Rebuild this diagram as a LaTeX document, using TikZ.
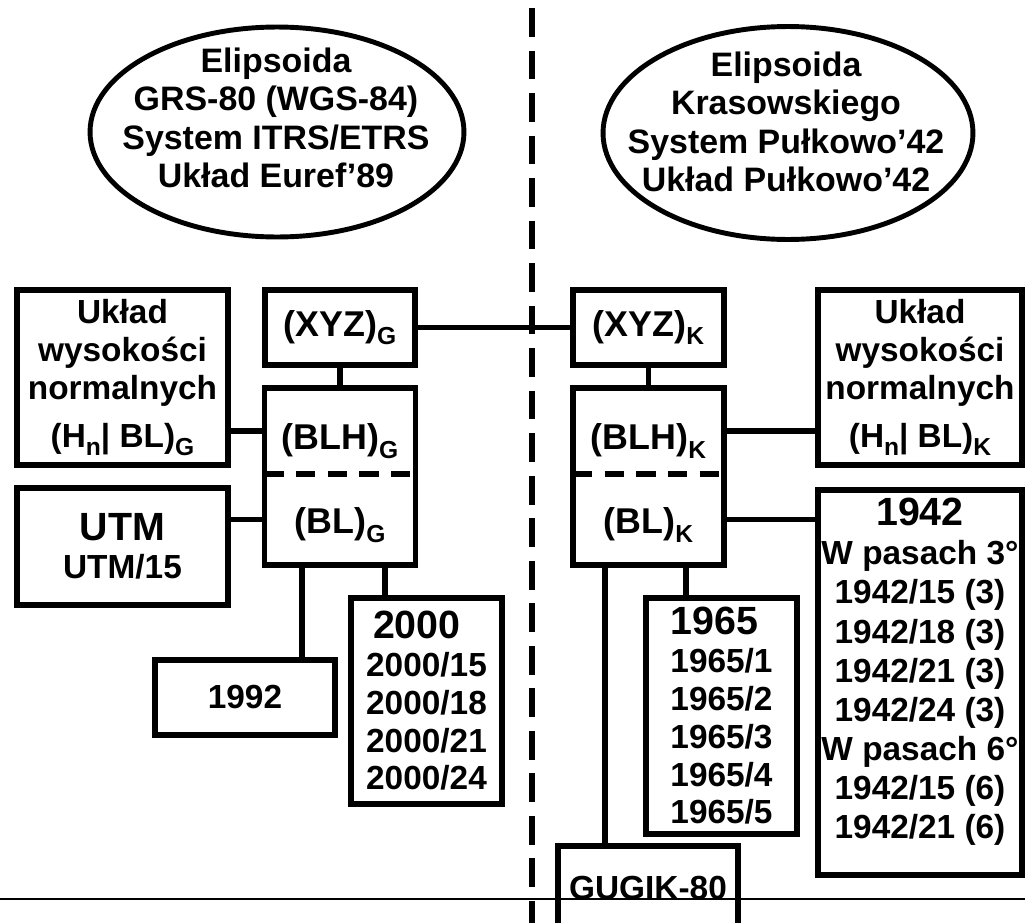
\documentclass[tikz,border=0pt]{standalone}
\usepackage{fontspec}
\setmainfont{Liberation Sans}
\usetikzlibrary{positioning, shapes.geometric, calc}

\newcommand{\txt}{\fontsize{19}{21.5}\selectfont\bfseries}
\newcommand{\lbl}{\fontsize{20.4}{22}\selectfont\bfseries}
\newcommand{\hdr}{\fontsize{22.4}{22.4}\selectfont}
\newcommand{\lowidx}[1]{\raisebox{-0.24em}{\fontsize{14}{14}\selectfont #1}}

\begin{document}
\begin{tikzpicture}[x=0.02cm, y=-0.02cm,
    box/.style={draw, line width=3.2pt, rectangle, outer sep=0pt, inner sep=0pt, align=center, font=\txt}, % ramki
    half/.style={rectangle, outer sep=0pt, inner sep=0pt, minimum width=3.02cm, align=center, font=\lbl, text depth=5pt},
    link/.style={line width=3.2pt},
    halfdash/.style={line width=3.2pt, dash pattern=on 11pt off 7pt},
    ell/.style={ellipse, draw, line width=2.8pt, inner sep=0pt},
    etxt/.style={align=center, inner sep=0pt, font={\fontsize{19.3}{21.8}\selectfont\bfseries}},
    divider/.style={line width=3.4pt, dash pattern=on 16.4pt off 7.8pt}
    ]
\clip (0,0) rectangle (1025,923);

% elipsoidy
\node[ell, minimum width=7.48cm, minimum height=4.2cm] (ellG) at (277,132) {};
\node[etxt] (ellGt) at (276,118) {Elipsoida\\GRS-80 (WGS-84)\\System ITRS/ETRS\\Układ Euref’89};
\node[ell, minimum width=7.4cm, minimum height=4.26cm] (ellK) at (788,133) {};
\node[etxt] (ellKt) at (786,122) {Elipsoida\\Krasowskiego\\System Pułkowo’42\\Układ Pułkowo’42};

% linie podzialu
\draw[divider] (532,8) -- (532,930);
\draw[line width=1.2pt] (0,899) -- (1025,899);

% lewa strona
\node[box, font=\lbl, minimum width=3cm, minimum height=1.5cm] (xyzG) at (340,327.5) {(XYZ)\lowidx{G}};
\node[half, text height=26pt, minimum height=1.72cm] (blhG) at (340,431) {(BLH)\lowidx{G}};
\node[half, text height=21.5pt, minimum height=1.82cm, below=0pt of blhG] (blG) {(BL)\lowidx{G}};
\draw[link] (blhG.north west) rectangle (blG.south east);
\draw[halfdash] (blhG.south west) -- (blhG.south east);
\node[box, minimum width=4.22cm, minimum height=3.5cm] (ukG) at (122.5,377.5) {Układ\\wysokości\\normalnych\\[6pt](H\lowidx{n}| BL)\lowidx{G}};
\node[box, minimum width=4.22cm, minimum height=2.34cm] (utm) at (122.5,546.5) {{\hdr UTM}\\UTM/15};
\node[box, minimum width=3.6cm, minimum height=1.5cm] (y1992) at (245,697.5) {1992};
\node[box, minimum width=3.02cm, minimum height=4.12cm] (y2000) at (426.5,701) {{\hdr 2000}\hspace*{11pt}\\2000/15\\2000/18\\2000/21\\2000/24};

\draw[link] (xyzG.south) -- (blhG.north);
\draw[link] (blhG.west) -- (blhG.west -| ukG.east);
\draw[link] (blG.west) -- (blG.west -| utm.east);
\coordinate (gA) at ($(blG.south west)!0.25!(blG.south east)$);
\coordinate (gB) at ($(blG.south west)!0.8!(blG.south east)$);
\draw[link] (gA) -- (gA |- y1992.north);
\draw[link] (gB) -- (gB |- y2000.north);

% prawa strona
\node[box, font=\lbl, minimum width=3.02cm, minimum height=1.5cm] (xyzK) at (648.5,327.5) {(XYZ)\lowidx{K}};
\node[half, text height=26pt, minimum height=1.72cm] (blhK) at (648.5,431) {(BLH)\lowidx{K}};
\node[half, text height=21.5pt, minimum height=1.82cm, below=0pt of blhK] (blK) {(BL)\lowidx{K}};
\draw[link] (blhK.north west) rectangle (blK.south east);
\draw[halfdash] (blhK.south west) -- (blhK.south east);
\node[box, minimum width=4.08cm, minimum height=3.5cm] (ukK) at (920,377.5) {Układ\\wysokości\\normalnych\\[6pt](H\lowidx{n}| BL)\lowidx{K}};
\node[box, font={\fontsize{19}{22.3}\selectfont\bfseries}, text depth=16pt, minimum width=4.08cm, minimum height=7.7cm] (y1942) at (920,682.5) {{\hdr 1942}\\W pasach 3°\\1942/15 (3)\\1942/18 (3)\\1942/21 (3)\\1942/24 (3)\\W pasach 6°\\1942/15 (6)\\1942/21 (6)};
\node[box, minimum width=3.02cm, minimum height=4.72cm] (y1965) at (721.5,716) {{\hdr 1965}\hspace*{8pt}\\1965/1\\1965/2\\1965/3\\1965/4\\1965/5};
\node[box, minimum width=3.6cm, minimum height=1.68cm] (gugik) at (648,888) {GUGIK-80};

\draw[link] (xyzG.east) -- (xyzK.west);
\draw[link] (xyzK.south) -- (blhK.north);
\draw[link] (blhK.east) -- (blhK.east -| ukK.west);
\draw[link] (blK.east) -- (blK.east -| y1942.west);
\coordinate (kA) at ($(blK.south west)!0.21!(blK.south east)$);
\coordinate (kB) at ($(blK.south west)!0.75!(blK.south east)$);
\draw[link] (kA) -- (kA |- gugik.north);
\draw[link] (kB) -- (kB |- y1965.north);
\end{tikzpicture}
\end{document}
